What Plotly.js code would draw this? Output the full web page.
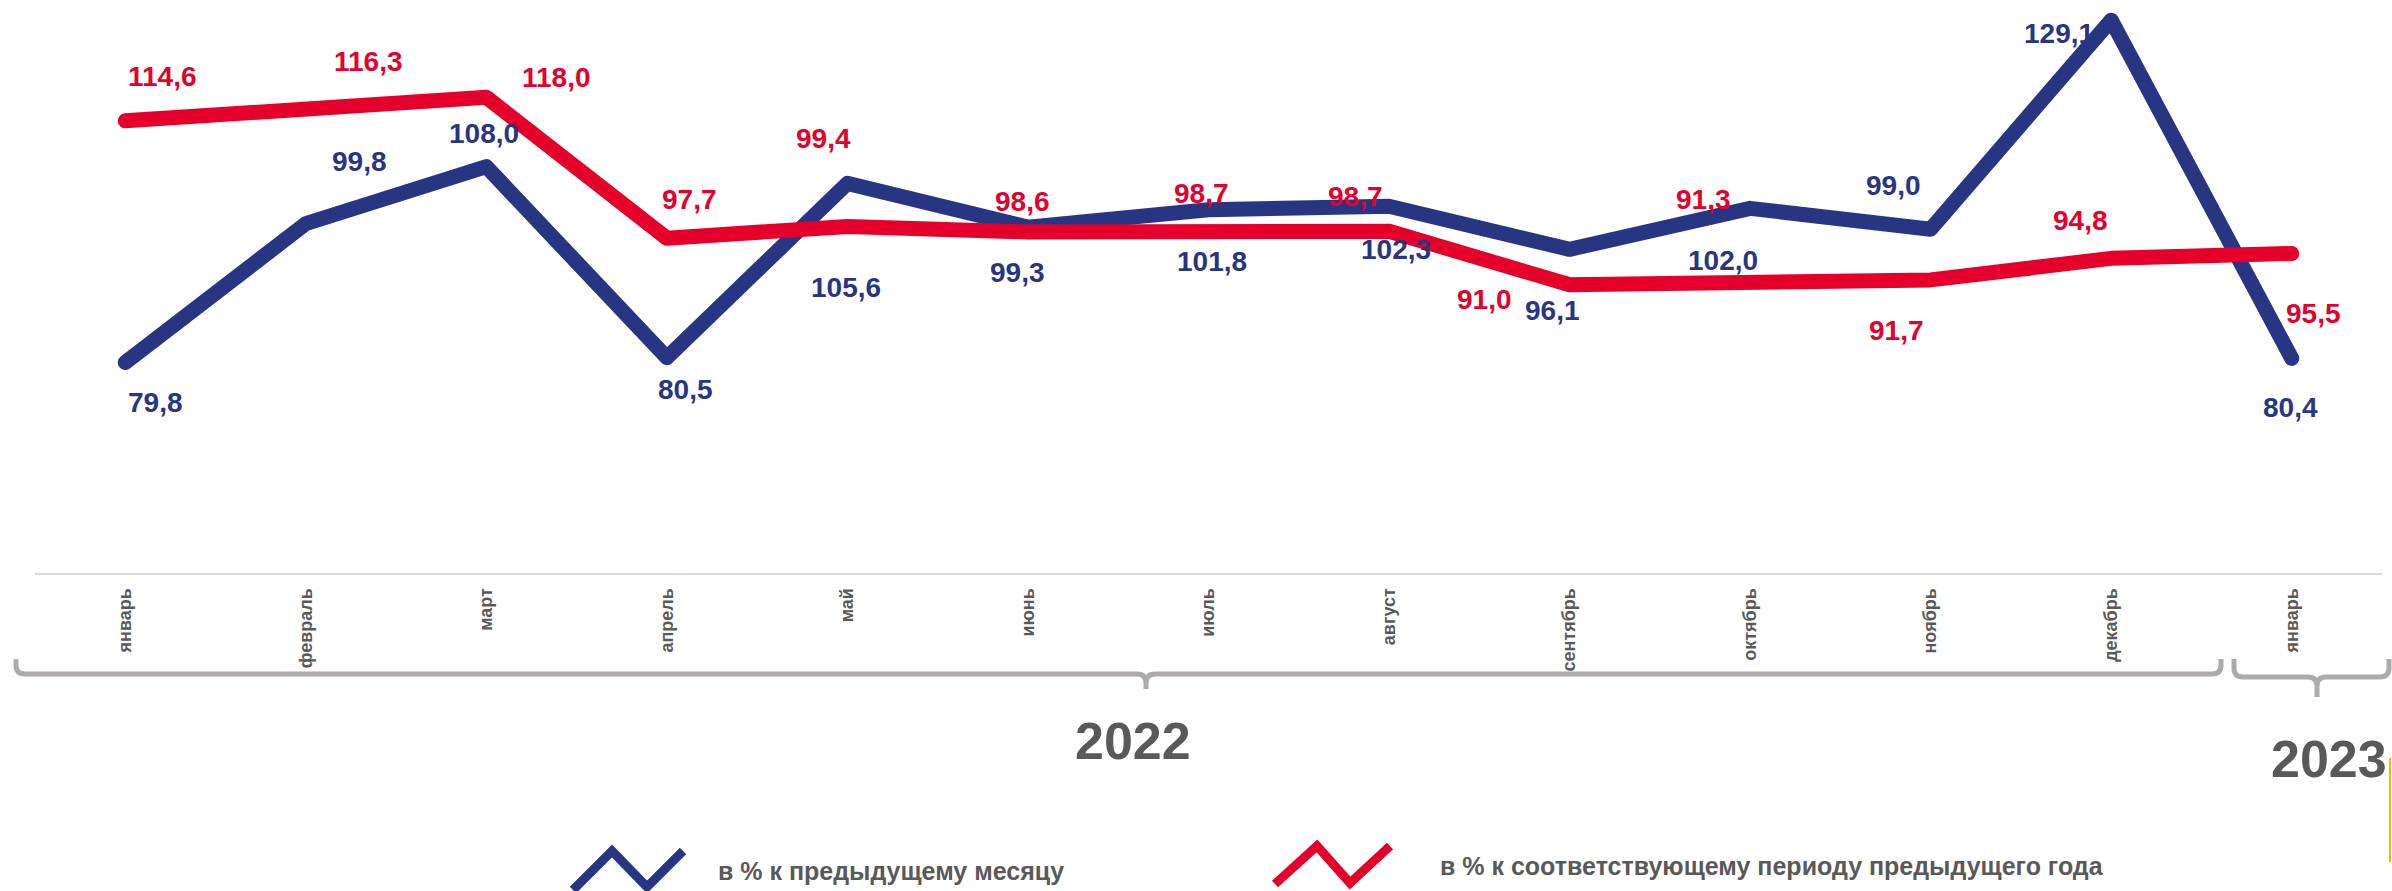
<!DOCTYPE html>
<html>
<head>
<meta charset="utf-8">
<script src="https://cdn.plot.ly/plotly-3.0.1.min.js"></script>
<style>
  html, body { margin: 0; padding: 0; background: #fff; }
  #chart { width: 2392px; height: 891px; }
  .scatterlayer .js-line { stroke-linecap: round; stroke-linejoin: round; }
</style>
</head>
<body>
<div id="chart"></div>
<script>
// ---- data ----
const months = ["январь","февраль","март","апрель","май","июнь","июль","август","сентябрь","октябрь","ноябрь","декабрь","январь"];
const years = ["2022", "2023"];
const prevMonth = [79.8, 99.8, 108.0, 80.5, 105.6, 99.3, 101.8, 102.3, 96.1, 102.0, 99.0, 129.1, 80.4];
const prevYear  = [114.6, 116.3, 118.0, 97.7, 99.4, 98.6, 98.7, 98.7, 91.0, 91.3, 91.7, 94.8, 95.5];
const seriesNames = ["в % к предыдущему месяцу", "в % к соответствующему периоду предыдущего года"];

// ---- styles ----
const BLUE = "#283583", RED = "#E4002B", GRAY = "#595959", BRACE = "#AEAAAA";
const FONT = "Arial, 'Liberation Sans', sans-serif";
// label offsets in pixels [dx, dy(down)]
const blueOff = [[30,40],[54,-62],[-2,-33],[19,32],[-1,104],[-10,45],[3,52],[7,43],[-17,61],[-27,52],[-37,-44],[-52,13],[-1,49]];
const redOff  = [[37,-44],[63,-48],[70,-20],[23,-39],[-24,-88],[-5,-30],[-7,-38],[-34,-35],[-85,15],[-47,-83],[-34,51],[-31,-38],[22,60]];

const W = 2392, H = 891;
const M = {l: 35, r: 10, t: 0, b: 318};
const PW = W - M.l - M.r, PH = H - M.t - M.b;
const px = x => (x - M.l) / PW;
const py = y => (M.t + PH - y) / PH;

const xs = months.map((_, i) => i);
const fmt = v => v.toFixed(1).replace(".", ",");

const traces = [
  {x: xs, y: prevMonth, type: "scatter", mode: "lines", name: seriesNames[0],
   line: {color: BLUE, width: 15}, hoverinfo: "skip"},
  {x: xs, y: prevYear, type: "scatter", mode: "lines", name: seriesNames[1],
   line: {color: RED, width: 15}, hoverinfo: "skip"}
];

const annotations = [];
prevMonth.forEach((v, i) => annotations.push({
  x: i, y: v, xref: "x", yref: "y", text: fmt(v), showarrow: false,
  xanchor: "center", yanchor: "middle", xshift: blueOff[i][0], yshift: -blueOff[i][1],
  font: {family: FONT, size: 28, color: BLUE, weight: "bold"}
}));
prevYear.forEach((v, i) => annotations.push({
  x: i, y: v, xref: "x", yref: "y", text: fmt(v), showarrow: false,
  xanchor: "center", yanchor: "middle", xshift: redOff[i][0], yshift: -redOff[i][1],
  font: {family: FONT, size: 28, color: RED, weight: "bold"}
}));
// year labels
annotations.push({x: px(1133), y: py(741), xref: "paper", yref: "paper", text: years[0], showarrow: false,
  xanchor: "center", yanchor: "middle", font: {family: FONT, size: 52, color: GRAY, weight: "bold"}});
annotations.push({x: px(2329), y: py(759), xref: "paper", yref: "paper", text: years[1], showarrow: false,
  xanchor: "center", yanchor: "middle", font: {family: FONT, size: 52, color: GRAY, weight: "bold"}});
// legend texts
annotations.push({x: px(716), y: py(871), xref: "paper", yref: "paper", text: seriesNames[0], showarrow: false,
  xanchor: "left", yanchor: "middle", font: {family: FONT, size: 25, color: GRAY, weight: "bold"}});
annotations.push({x: px(1438), y: py(866), xref: "paper", yref: "paper", text: seriesNames[1], showarrow: false,
  xanchor: "left", yanchor: "middle", font: {family: FONT, size: 25, color: GRAY, weight: "bold"}});

function P(pts) { return pts.map((p, k) => (k ? "L" : "M") + px(p[0]) + "," + py(p[1])).join(" "); }
function brace(x1, x2, xm, yTop, yLine, yTip, r) {
  const f = (x, y) => px(x) + "," + py(y);
  return "M" + f(x1, yTop) + " L" + f(x1, yLine - r) + " Q" + f(x1, yLine) + " " + f(x1 + r, yLine) +
    " L" + f(xm - r, yLine) + " Q" + f(xm, yLine) + " " + f(xm, yLine + r) + " L" + f(xm, yTip) +
    " M" + f(xm, yLine + r) + " Q" + f(xm, yLine) + " " + f(xm + r, yLine) +
    " L" + f(x2 - r, yLine) + " Q" + f(x2, yLine) + " " + f(x2, yLine - r) + " L" + f(x2, yTop);
}

const shapes = [
  {type: "path", xref: "paper", yref: "paper", path: brace(16, 2221, 1146, 659, 674, 689, 9),
   line: {color: BRACE, width: 5}},
  {type: "path", xref: "paper", yref: "paper", path: brace(2234, 2389, 2317, 659, 677, 697, 9),
   line: {color: BRACE, width: 5}},
  {type: "path", xref: "paper", yref: "paper", path: P([[573,890],[612,851],[647,887],[683,851]]),
   line: {color: BLUE, width: 9}},
  {type: "path", xref: "paper", yref: "paper", path: P([[1275,884],[1317,846],[1350,883],[1390,846]]),
   line: {color: RED, width: 9}},
  {type: "line", xref: "paper", yref: "paper", x0: px(2390), x1: px(2390), y0: py(758), y1: py(862),
   line: {color: "#F2B705", width: 2}}
];

const layout = {
  width: W, height: H, margin: M, showlegend: false,
  paper_bgcolor: "#ffffff", plot_bgcolor: "#ffffff",
  xaxis: {range: [-0.5, 12.5], tickvals: xs, ticktext: months, tickangle: -90,
    showgrid: false, zeroline: false, showline: true, linecolor: "#D9D9D9", linewidth: 2,
    ticks: "", ticklabelstandoff: 6, tickfont: {family: FONT, size: 18, color: GRAY, weight: "bold"}, fixedrange: true},
  yaxis: {range: [49.5, 132], visible: false, showgrid: false, zeroline: false, fixedrange: true},
  annotations: annotations, shapes: shapes
};

Plotly.newPlot("chart", traces, layout, {staticPlot: true, displayModeBar: false});
</script>
</body>
</html>
